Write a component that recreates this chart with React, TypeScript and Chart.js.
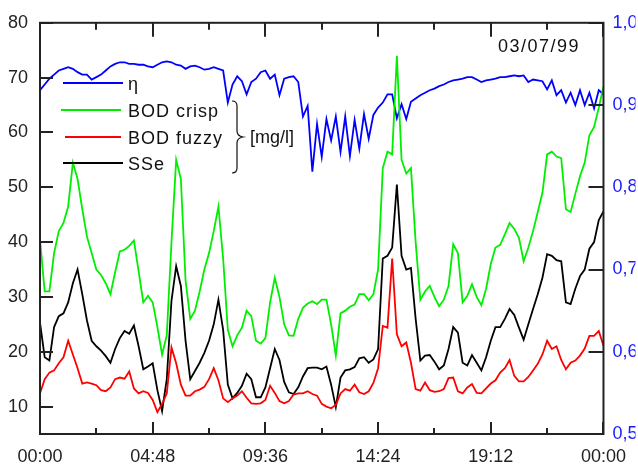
import React, { useEffect, useRef } from 'react';
import { Chart, registerables } from 'chart.js';

Chart.register(...registerables);

// sampling grid of the recorded series (hours between samples)
const SAMPLE_STEP_H = 0.2;

// efficiency η (right axis)
const ETA = [
  0.918, 0.925, 0.932, 0.937, 0.942, 0.944, 0.946, 0.944, 0.940, 0.937,
  0.937, 0.931, 0.934, 0.937, 0.942, 0.947, 0.950, 0.952, 0.952, 0.950,
  0.950, 0.949, 0.949, 0.947, 0.946, 0.949, 0.952, 0.953, 0.952, 0.949,
  0.948, 0.944, 0.947, 0.948, 0.946, 0.943, 0.944, 0.946, 0.944, 0.942,
  0.903, 0.925, 0.935, 0.929, 0.913, 0.928, 0.932, 0.940, 0.942, 0.932,
  0.937, 0.912, 0.932, 0.934, 0.935, 0.928, 0.886, 0.899, 0.819, 0.877,
  0.837, 0.883, 0.857, 0.886, 0.843, 0.886, 0.838, 0.882, 0.847, 0.889,
  0.859, 0.888, 0.897, 0.903, 0.913, 0.913, 0.884, 0.901, 0.883, 0.904,
  0.908, 0.912, 0.915, 0.918, 0.920, 0.923, 0.925, 0.928, 0.930, 0.931,
  0.932, 0.934, 0.934, 0.931, 0.928, 0.930, 0.931, 0.932, 0.934, 0.934,
  0.935, 0.936, 0.935, 0.936, 0.928, 0.931, 0.930, 0.929, 0.919, 0.930,
  0.912, 0.918, 0.903, 0.915, 0.900, 0.918, 0.900, 0.915, 0.896, 0.918,
  0.913,
];

// BOD crisp [mg/l]
const BOD_CRISP = [
  40.5, 31, 31, 38, 42, 43.5, 46.5, 54.5, 51.5, 46,
  41, 38, 35, 34, 32.5, 30.5, 34.5, 38.3, 38.6, 39.3,
  40.3, 34.7, 29, 30.2, 29, 24.5, 19.5, 23, 40, 55,
  51.5, 33, 26, 27.5, 31, 35, 38, 42, 46.5, 37,
  24, 21, 23, 24.4, 27.5, 26.5, 22, 21.5, 22.5, 29,
  33.5, 30, 25, 23, 22.9, 26, 28, 28.8, 29.2, 28.7,
  29.5, 29.5, 25, 19.3, 27, 27.5, 28.2, 28.6, 30.5, 30.5,
  29.4, 30.5, 35, 53.5, 56.5, 56, 74, 55, 52.5, 53.5,
  40, 29.5, 31, 32, 30, 28.3, 29.5, 32, 39.6, 38,
  29, 30.2, 32.3, 30, 28.5, 31.5, 36, 39, 39.5, 41.4,
  43.5, 42.4, 40.8, 36.5, 39, 42, 45.5, 49, 56, 56.5,
  55.6, 55.3, 46, 45.5, 48.8, 52, 54.5, 59.5, 61, 64.5,
  68.4,
];

// BOD fuzzy [mg/l]
const BOD_FUZZY = [
  12.4, 15, 16.2, 16.6, 17.9, 19, 22, 19.5, 17, 14.2,
  14.4, 14.2, 13.9, 13, 12.8, 13.5, 15, 15.3, 15.1, 16.4,
  13.3, 12.4, 12.8, 12.5, 11.2, 9, 10.5, 12.4, 20.8, 17.9,
  14, 12, 12, 12.8, 13.1, 13.6, 15, 17, 14.8, 11.5,
  10.8, 11.5, 12, 12.8, 11.6, 10.6, 10.5, 10.6, 11.2, 13.8,
  12.5, 11, 10.6, 11, 12.2, 12.4, 12.4, 12.8, 12.3, 12,
  10.5, 10, 9.7, 10.3, 12.4, 13.2, 12.9, 14, 12.6, 12.3,
  12.8, 14.3, 17, 24.7, 24.4, 37, 23.2, 21, 21.7, 18,
  13.2, 12.9, 14.4, 13, 12.7, 12.8, 13.2, 15.2, 15.3, 12.8,
  12.4, 13.5, 14.1, 12.5, 12.4, 13.3, 14.2, 14.8, 16.2, 17,
  18.5, 15.6, 14.6, 14.6, 15.4, 16.6, 17.8, 19.5, 22, 20.5,
  21, 18.5, 16.8, 18, 18.4, 19.3, 20.6, 22.9, 22.9, 23.8,
  21.1,
];

// SSe [mg/l]
const SSE = [
  25.3, 19, 18.4, 24.5, 26.5, 27, 29, 32.5, 35, 30.5,
  25.7, 22, 21, 20.2, 19.2, 18, 20.5, 22.5, 23.8, 23.3,
  24.8, 21, 16.8, 17.3, 17.9, 13, 9.2, 15, 29.3, 35.6,
  32, 22, 15, 16.5, 18, 19.8, 22, 25, 29.5, 24,
  14, 11.5, 12.5, 13.8, 16, 15, 11.7, 11.7, 13.5, 17,
  20.5, 18.5, 14.5, 12.6, 12.3, 13.5, 15.5, 17, 17.1, 17.1,
  16.8, 17.3, 14, 9.9, 15.3, 16.6, 16.8, 17.2, 18.8, 19,
  18, 18.6, 20.5, 37, 37.5, 39, 50.5, 37.5, 35, 35.3,
  26, 18.4, 19.3, 19.4, 18.2, 16.8, 17.5, 20.5, 24.5, 23.5,
  18, 17.5, 19.4, 18, 16.6, 19, 22, 24.5, 24.5, 26,
  27.8, 26.7, 24.4, 22.2, 25, 27.8, 30.5, 33.5, 37.8, 37.5,
  36.7, 36.5, 29, 28.7, 31.5, 33.8, 35, 38.8, 40, 44,
  45.6,
];

const X_TICK_STEP_H = 2.4;
const LEFT_TICKS = [10, 20, 30, 40, 50, 60, 70, 80];
const RIGHT_TICKS = [0.5, 0.6, 0.7, 0.8, 0.9, 1.0];
const LEGEND_LABELS = ['η', 'BOD crisp', 'BOD fuzzy', 'SSe'];
const UNIT_LABEL = '[mg/l]';
const DATE_LABEL = '03/07/99';

const COLORS = { eta: '#0000ff', crisp: '#00ee00', fuzzy: '#ff0000', sse: '#000000' };
const FONT = "'Liberation Sans', Arial, sans-serif";
const AXIS_COLOR = '#222222';

const fmtTime = (h: number) => {
  const m = Math.round(h * 60) % 1440;
  const hh = Math.floor(m / 60);
  const mm = m % 60;
  return String(hh).padStart(2, '0') + ':' + String(mm).padStart(2, '0');
};

const toPoints = (arr: number[]) => arr.map((v, i) => ({ x: i * SAMPLE_STEP_H, y: v }));

const decorPlugin = {
  id: 'decor',
  afterDraw(chart: any) {
    const { ctx, chartArea: a, scales } = chart;
    ctx.save();
    ctx.strokeStyle = AXIS_COLOR;
    ctx.lineWidth = 2;
    const seg = (x1: number, y1: number, x2: number, y2: number) => {
      ctx.beginPath();
      ctx.moveTo(x1, y1);
      ctx.lineTo(x2, y2);
      ctx.stroke();
    };
    // x ticks (bottom and top), pointing inward
    scales.x.ticks.forEach((t: any, i: number) => {
      const px = Math.round(scales.x.getPixelForValue(t.value));
      const major = i % 2 === 0;
      seg(px, a.bottom, px, a.bottom - (major ? 12 : 6));
      seg(px, a.top, px, a.top + (major ? 14 : 7));
    });
    // left ticks
    scales.y.ticks.forEach((t: any) => {
      const py = Math.round(scales.y.getPixelForValue(t.value));
      seg(a.left, py, a.left + 13, py);
    });
    // right ticks
    scales.y1.ticks.forEach((t: any) => {
      const py = Math.round(scales.y1.getPixelForValue(t.value));
      seg(a.right, py, a.right - 15, py);
    });
    // frame
    ctx.strokeRect(a.left, a.top, a.right - a.left, a.bottom - a.top);

    // legend
    const items = [
      { label: LEGEND_LABELS[0], color: COLORS.eta, x1: 63, x2: 123, y: 83 },
      { label: LEGEND_LABELS[1], color: COLORS.crisp, x1: 61, x2: 121, y: 110 },
      { label: LEGEND_LABELS[2], color: COLORS.fuzzy, x1: 65, x2: 121, y: 137 },
      { label: LEGEND_LABELS[3], color: COLORS.sse, x1: 63, x2: 123, y: 163 },
    ];
    ctx.font = `18px ${FONT}`;
    (ctx as any).letterSpacing = '1px';
    ctx.textAlign = 'left';
    ctx.textBaseline = 'alphabetic';
    items.forEach((it) => {
      ctx.strokeStyle = it.color;
      ctx.lineWidth = 2;
      seg(it.x1, it.y, it.x2, it.y);
      ctx.fillStyle = '#111';
      ctx.fillText(it.label, 128, it.y + 6.5);
    });

    // brace
    ctx.strokeStyle = '#111';
    ctx.lineWidth = 1.2;
    ctx.beginPath();
    ctx.moveTo(232, 101);
    ctx.quadraticCurveTo(237, 101, 237, 106);
    ctx.lineTo(237, 131);
    ctx.quadraticCurveTo(237, 136, 243, 137);
    ctx.quadraticCurveTo(237, 138, 237, 143);
    ctx.lineTo(237, 168);
    ctx.quadraticCurveTo(237, 173, 232, 173);
    ctx.stroke();

    (ctx as any).letterSpacing = '0px';
    ctx.fillText(UNIT_LABEL, 250, 143);

    (ctx as any).letterSpacing = '1.5px';
    ctx.fillText(DATE_LABEL, 498, 52);
    ctx.restore();
  },
};

export default function App() {
  const ref = useRef<HTMLCanvasElement | null>(null);

  useEffect(() => {
    if (!ref.current) return;
    const tickFont = { family: FONT, size: 18 };
    const chart = new Chart(ref.current, {
      type: 'line',
      data: {
        datasets: [
          {
            label: LEGEND_LABELS[2],
            data: toPoints(BOD_FUZZY),
            borderColor: COLORS.fuzzy,
            yAxisID: 'y',
          },
          {
            label: LEGEND_LABELS[3],
            data: toPoints(SSE),
            borderColor: COLORS.sse,
            yAxisID: 'y',
          },
          {
            label: LEGEND_LABELS[1],
            data: toPoints(BOD_CRISP),
            borderColor: COLORS.crisp,
            yAxisID: 'y',
          },
          {
            label: LEGEND_LABELS[0],
            data: toPoints(ETA),
            borderColor: COLORS.eta,
            yAxisID: 'y1',
          },
        ].map((d) => ({
          ...d,
          borderWidth: 1.8,
          pointRadius: 0,
          tension: 0,
          fill: false,
        })),
      },
      options: {
        animation: false,
        responsive: false,
        devicePixelRatio: 1,
        layout: { padding: { top: 20, left: 0, right: 0, bottom: 0 } },
        plugins: { legend: { display: false }, tooltip: { enabled: false } },
        scales: {
          x: {
            type: 'linear',
            position: 'bottom',
            min: 0,
            max: 24,
            grid: { display: false, drawTicks: false },
            border: { display: false },
            ticks: {
              stepSize: X_TICK_STEP_H,
              autoSkip: false,
              maxRotation: 0,
              padding: 12,
              color: AXIS_COLOR,
              font: tickFont,
              callback: (v: any, i: number) => (i % 2 === 0 ? fmtTime(Number(v)) : ''),
            },
            afterFit: (s: any) => {
              s.height = 34;
            },
          },
          y: {
            type: 'linear',
            position: 'left',
            min: 5,
            max: 80,
            grid: { display: false, drawTicks: false },
            border: { display: false },
            afterBuildTicks: (s: any) => {
              s.ticks = LEFT_TICKS.map((v) => ({ value: v }));
            },
            ticks: {
              padding: 12,
              color: AXIS_COLOR,
              font: tickFont,
              callback: (v: any) => String(v),
            },
            afterFit: (s: any) => {
              s.width = 40;
            },
          },
          y1: {
            type: 'linear',
            position: 'right',
            min: 0.5,
            max: 1.0,
            grid: { display: false, drawTicks: false },
            border: { display: false },
            afterBuildTicks: (s: any) => {
              s.ticks = RIGHT_TICKS.map((v) => ({ value: v }));
            },
            ticks: {
              padding: 9,
              color: '#1a1aff',
              font: tickFont,
              callback: (v: any) => Number(v).toFixed(1).replace('.', ','),
            },
            afterFit: (s: any) => {
              s.width = 32;
            },
          },
        },
      } as any,
      plugins: [decorPlugin],
    });
    return () => chart.destroy();
  }, []);

  return (
    <div style={{ position: 'absolute', left: 0, top: 0, width: 638, height: 468, background: '#fff' }}>
      <canvas ref={ref} width={638} height={468} style={{ display: 'block' }} />
    </div>
  );
}
